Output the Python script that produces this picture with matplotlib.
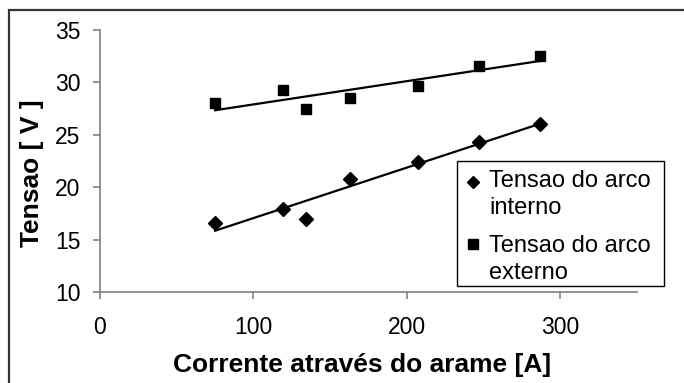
import numpy as np
import matplotlib
matplotlib.use("Agg")
import matplotlib.pyplot as plt
from matplotlib.patches import Rectangle
from matplotlib.lines import Line2D

# Data
corrente = [75, 119, 134, 163, 207, 247, 287]
tensao_interno = [16.6, 17.9, 17.0, 20.8, 22.4, 24.3, 26.0]
tensao_externo = [28.0, 29.3, 27.5, 28.5, 29.7, 31.6, 32.5]

serie_labels = ["Tensao do arco\ninterno", "Tensao do arco\nexterno"]
x_ticks = [0, 100, 200, 300]
y_ticks = [10, 15, 20, 25, 30, 35]

plt.rcParams["font.family"] = ["Liberation Sans", "DejaVu Sans"]

W, H = 684, 383
fig = plt.figure(figsize=(W / 100, H / 100), dpi=100)


def fx(px):
    return px / W


def fy(py):
    return 1 - py / H


ax = fig.add_axes([fx(100), fy(292), fx(637) - fx(100), fy(30) - fy(292)])

# Scatter points
ax.plot(corrente, tensao_interno, linestyle="none", marker="D", markersize=7.5,
        color="black", zorder=3)
ax.plot(corrente, tensao_externo, linestyle="none", marker="s", markersize=7.5,
        color="black", zorder=3)

# Linear trend lines
x = np.array(corrente, dtype=float)
xs = np.array([x.min(), x.max()])
for ys in (tensao_interno, tensao_externo):
    m, b = np.polyfit(x, ys, 1)
    ax.plot(xs, m * xs + b, color="black", linewidth=1.6, zorder=2)

ax.set_xlim(0, 350)
ax.set_ylim(10, 35)
ax.set_xticks(x_ticks)
ax.set_yticks(y_ticks)

for side in ("top", "right"):
    ax.spines[side].set_visible(False)
for side in ("left", "bottom"):
    ax.spines[side].set_color("#808080")
    ax.spines[side].set_linewidth(1.2)

ax.tick_params(axis="both", direction="out", length=5, width=1.2,
               color="#808080", labelsize=16.5, labelcolor="black")
ax.tick_params(axis="x", pad=12)
ax.tick_params(axis="y", pad=9)

# Axis titles
fig.text(fx(362), fy(372), "Corrente através do arame [A]", ha="center",
         va="baseline", fontsize=19, fontweight="bold")
fig.text(fx(32), fy(173), "Tensao [ V ]", ha="center", va="center",
         rotation=90, fontsize=19, fontweight="bold")

# Legend box drawn by hand (Excel style, marker on first line)
fig.patches.append(Rectangle((fx(457), fy(286)), fx(664) - fx(457),
                             fy(161) - fy(286), transform=fig.transFigure,
                             facecolor="white", edgecolor="black",
                             linewidth=1.0, zorder=5))
legend_rows = [("D", 181.7, 186.7), ("s", 244.0, 251.7)]
for (mk, my, base), label in zip(legend_rows, serie_labels):
    fig.lines.append(Line2D([fx(473)], [fy(my)], marker=mk, markersize=6.5,
                            color="black", linestyle="none",
                            transform=fig.transFigure, zorder=6))
    first, second = label.split("\n")
    fig.text(fx(489), fy(base), first, ha="left", va="baseline",
             fontsize=17, zorder=6)
    fig.text(fx(489), fy(base + 27.5), second, ha="left", va="baseline",
             fontsize=17, zorder=6)

# Outer chart border (runs off the right and bottom of the image)
fig.patches.append(Rectangle((fx(8.5), fy(400)), fx(700) - fx(8.5),
                             fy(10) - fy(400), transform=fig.transFigure,
                             facecolor="none", edgecolor="#333333",
                             linewidth=1.6, zorder=0))

fig.savefig("out.png", dpi=100)
